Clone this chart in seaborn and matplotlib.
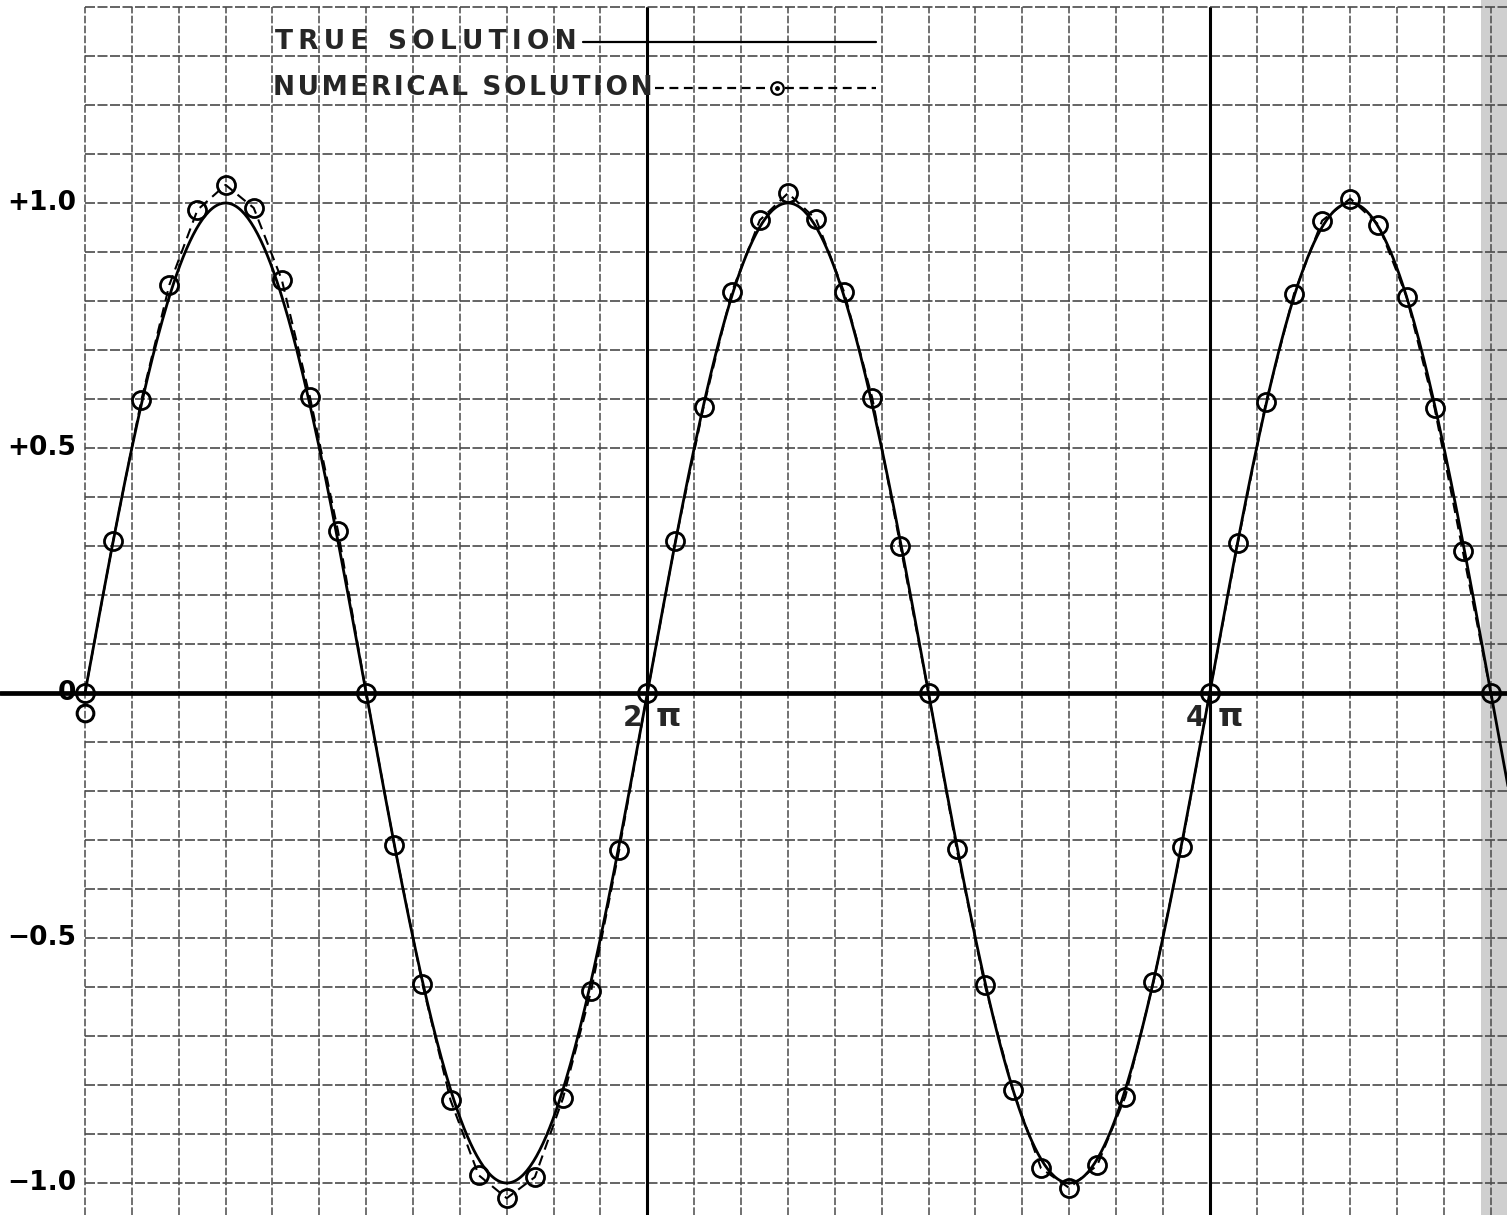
import numpy as np
import matplotlib
matplotlib.use('Agg')
import matplotlib.pyplot as plt
import seaborn as sns

sns.set_style('white')
plt.rcParams['font.family'] = ['DejaVu Sans']

# numerical solution, one value per step of pi/10
STEP = np.pi / 10
num_y = [0.0, 0.31, 0.597, 0.833, 0.986, 1.037, 0.99, 0.843, 0.604, 0.33,
         0.0, -0.31, -0.594, -0.831, -0.984, -1.031, -0.988, -0.827, -0.608, -0.32,
         0.0, 0.31, 0.584, 0.818, 0.965, 1.02, 0.967, 0.818, 0.602, 0.30,
         0.0, -0.318, -0.596, -0.81, -0.97, -1.01, -0.964, -0.824, -0.59, -0.314,
         0.0, 0.306, 0.593, 0.815, 0.964, 1.009, 0.956, 0.809, 0.581, 0.29,
         0.0]
num_x = np.arange(len(num_y)) * STEP
# stray starting point just under the origin
start_x = [0.0]
start_y = [-0.04]

# true solution y = sin(x)
true_x = np.linspace(0, 16.2, 900)
true_y = np.sin(true_x)

ytick_vals = [1.0, 0.5, 0.0, -0.5, -1.0]
ytick_text = ['+1.0', '+0.5', '0', '\u22120.5', '\u22121.0']
pi_marks = [2 * np.pi, 4 * np.pi]
pi_text = [('2', '\u03c0'), ('4', '\u03c0')]

# pixel -> data scale of the sheet
PX_X = 89.5
PX_Y = 490.0
X0, Y0 = 85, 693
W, H = 1507, 1215
xmin, xmax = -X0 / PX_X, (W - X0) / PX_X
ymin, ymax = -(H - Y0) / PX_Y, Y0 / PX_Y

fig = plt.figure(figsize=(W / 100, H / 100), dpi=100)
ax = fig.add_axes([0, 0, 1, 1])
ax.set_xlim(xmin, xmax)
ax.set_ylim(ymin, ymax)
ax.axis('off')

# graph paper
grid_top = 1.4
gx = np.arange(0, 31) * np.pi / 6
gy = np.round(np.arange(-10, 15) * 0.1, 2)
ax.vlines(gx, ymin, grid_top, color='#4a4a4a', lw=1.1, linestyles=(0, (5, 1.5)), zorder=1)
ax.hlines(gy, 0, xmax, color='#4a4a4a', lw=1.2, linestyles=(0, (6, 1.5)), zorder=1)
ax.axvspan(15.6, xmax, color='#a8a8a8', alpha=0.55, lw=0, zorder=0)

# axis and pi lines
ax.axhline(0, color='black', lw=3.4, zorder=2)
for xp in pi_marks:
    ax.vlines(xp, ymin, grid_top, color='black', lw=2.2, zorder=2)

sns.lineplot(x=true_x, y=true_y, ax=ax, color='black', lw=2.0, zorder=3)
sns.lineplot(x=num_x, y=num_y, ax=ax, color='black', lw=1.5, linestyle=(0, (5, 3)),
             marker='o', markersize=13, markerfacecolor='none',
             markeredgecolor='black', markeredgewidth=2.0, zorder=4)
ax.plot(start_x, start_y, 'o', ms=12, mfc='none', mec='black', mew=2.2, zorder=4)

# y labels
for v, t in zip(ytick_vals, ytick_text):
    ax.text(-9 / PX_X, v, t, ha='right', va='center', fontsize=19,
            fontweight='bold', color='black')

# 2 pi, 4 pi labels
for xp, (n, p) in zip(pi_marks, pi_text):
    ax.text(xp - 5 / PX_X, -0.05, n, ha='right', va='center', fontsize=20,
            fontweight='bold')
    ax.text(xp + 8 / PX_X, -0.05, p, ha='left', va='center', fontsize=23,
            fontweight='bold')

# legend drawn onto the sheet
def spaced(s, gap):
    return gap.join(s)

ty1 = (Y0 - 42) / PX_Y
ty2 = (Y0 - 88) / PX_Y
ax.text((275 - X0) / PX_X, ty1, spaced('TRUE SOLUTION', '\u2009'), ha='left', va='center',
        fontsize=19, fontweight='bold')
ax.text((273 - X0) / PX_X, ty2, spaced('NUMERICAL SOLUTION', '\u200a'), ha='left', va='center',
        fontsize=19, fontweight='bold')
ax.plot([(583 - X0) / PX_X, (876 - X0) / PX_X], [ty1, ty1], color='black', lw=1.6)
ax.plot([(655 - X0) / PX_X, (876 - X0) / PX_X], [ty2, ty2], color='black', lw=1.6,
        linestyle=(0, (4, 2.5)))
ax.plot([(777 - X0) / PX_X], [ty2], 'o', ms=9, mfc='white', mec='black', mew=1.6, zorder=5)
ax.plot([(777 - X0) / PX_X], [ty2], 'o', ms=2.5, color='black', zorder=6)

fig.savefig('out.png', dpi=100, facecolor='white')
